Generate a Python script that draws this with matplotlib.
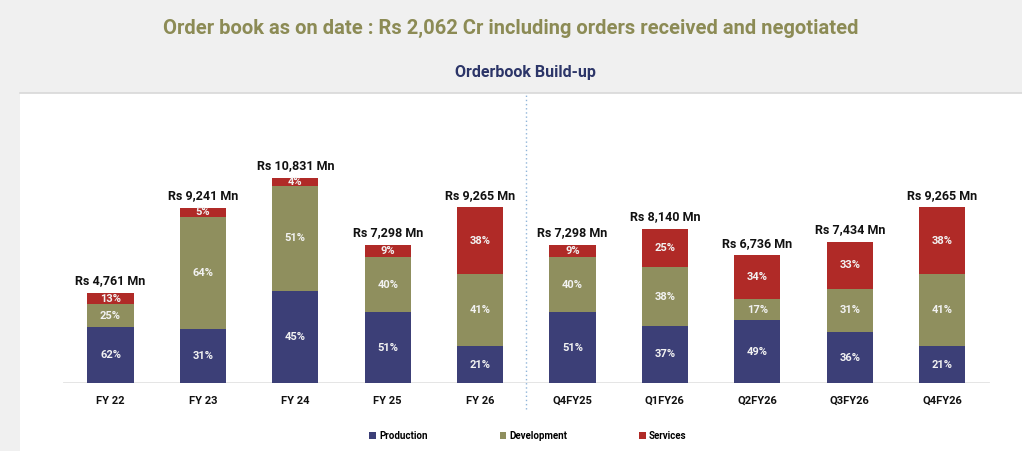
import matplotlib.pyplot as plt
import matplotlib.patches as mpatches
import numpy as np

# Dados do gráfico
categorias = ['FY 22', 'FY 23', 'FY 24', 'FY 25', 'FY 26',
              'Q4FY25', 'Q1FY26', 'Q2FY26', 'Q3FY26', 'Q4FY26']
totais = [4761, 9241, 10831, 7298, 9265, 7298, 8140, 6736, 7434, 9265]
rotulos_totais = ['Rs 4,761 Mn', 'Rs 9,241 Mn', 'Rs 10,831 Mn', 'Rs 7,298 Mn', 'Rs 9,265 Mn',
                  'Rs 7,298 Mn', 'Rs 8,140 Mn', 'Rs 6,736 Mn', 'Rs 7,434 Mn', 'Rs 9,265 Mn']
producao = [62, 31, 45, 51, 21, 51, 37, 49, 36, 21]
desenvolvimento = [25, 64, 51, 40, 41, 40, 38, 17, 31, 41]
servicos = [13, 5, 4, 9, 38, 9, 25, 34, 33, 38]

series = ['Production', 'Development', 'Services']
cores = ['#3c3f77', '#8f8f5e', '#b02a27']

plt.rcParams['font.family'] = ['Roboto', 'DejaVu Sans']

W, H = 1022, 451
fig = plt.figure(figsize=(W / 100, H / 100), dpi=100)
fig.patch.set_facecolor('#f0f0f0')

# painel branco (atrás dos eixos)
painel = mpatches.Rectangle((20 / W, 0), 1 - 20 / W, 1 - 93 / H, transform=fig.transFigure,
                            facecolor='white', edgecolor='none', zorder=-10)
fig.patches.append(painel)
fig.add_artist(plt.Line2D([20 / W, 1], [1 - 93 / H, 1 - 93 / H], color='#d8d8d8', lw=1.2, zorder=-9))

ax = fig.add_axes([20 / W, 1 - 383 / H, 1 - 20 / W, (383 - 93) / H])
ax.set_facecolor('none')
for s in ax.spines.values():
    s.set_visible(False)

x = np.arange(len(categorias))
tot = np.array(totais, dtype=float)
partes = [np.array(producao), np.array(desenvolvimento), np.array(servicos)]

base = np.zeros(len(x))
for pct, cor, nome in zip(partes, cores, series):
    alturas = tot * pct / 100
    ax.bar(x, alturas, 0.5, bottom=base, color=cor, label=nome, zorder=3)
    for xi, b, h, p in zip(x, base, alturas, pct):
        ax.text(xi, b + h / 2, f'{p}%', ha='center', va='center', color='#f2f2f2',
                fontsize=8, fontweight='bold', zorder=4)
    base = base + alturas

for xi, t, lab in zip(x, tot, rotulos_totais):
    ax.text(xi, t + 300, lab, ha='center', va='bottom', fontsize=9, fontweight='bold',
            color='#111111')

ax.axhline(0, xmin=(64 - 20) / (W - 20), xmax=(988 - 20) / (W - 20), color='#e2e2e2', lw=2, zorder=2)
ax.axvline(4.5, ymin=-0.09, ymax=1.0, color='#8fb4d9', lw=1, ls=(0, (1, 2)), clip_on=False)

ax.set_xlim(-(110.5 - 20) / 92.4, (W - 110.5) / 92.4)
ax.set_ylim(0, 15300)
ax.set_yticks([])
ax.set_xticks(x)
ax.set_xticklabels(categorias, fontsize=8, fontweight='bold', color='#111111')
ax.tick_params(axis='x', length=0, pad=9)

fig.text(0.5, 1 - 28 / H, 'Order book as on date : Rs 2,062 Cr including orders received and negotiated',
         ha='center', va='center', fontsize=14.5, fontweight='bold', color='#8c8b55')
fig.text(525 / W, 1 - 73 / H, 'Orderbook Build-up', ha='center', va='center',
         fontsize=11.5, fontweight='bold', color='#2c3568')

fig.legend(loc='center', bbox_to_anchor=(528 / W, 1 - 436 / H), ncol=3, frameon=False,
           prop={'size': 7, 'weight': 'bold'}, handlelength=0.7, handleheight=0.7,
           handletextpad=0.3, columnspacing=7.4)

plt.savefig('out.png', dpi=100, facecolor=fig.get_facecolor())
